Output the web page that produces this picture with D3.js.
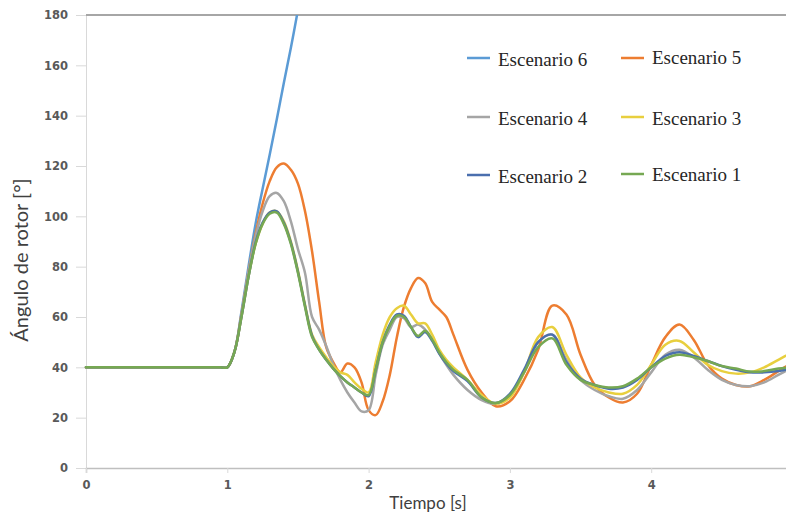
<!DOCTYPE html>
<html>
<head>
<meta charset="utf-8">
<script src="https://cdn.jsdelivr.net/npm/d3@7"></script>
<style>
  html, body { margin: 0; padding: 0; background: #ffffff; }
  svg { display: block; }
</style>
</head>
<body>
<svg id="chart" width="786" height="515"></svg>
<script>
// ---- Data ----
const times = [0, 0.95, 1.0, 1.05, 1.1, 1.15, 1.2, 1.25, 1.3, 1.35, 1.4, 1.45, 1.5, 1.55, 1.6, 1.65, 1.7, 1.75, 1.8, 1.85,
  1.9, 1.95, 2.0, 2.05, 2.1, 2.15, 2.2, 2.25, 2.3, 2.35, 2.4, 2.45, 2.5, 2.55, 2.6, 2.7, 2.8, 2.9, 3.0, 3.1,
  3.2, 3.3, 3.4, 3.5, 3.6, 3.7, 3.8, 3.9, 4.0, 4.1, 4.2, 4.3, 4.4, 4.5, 4.6, 4.7, 4.8, 4.9, 5.0];

const escenario1 = [40, 40, 40, 46, 60, 76, 89, 97, 101, 101.5, 97, 89, 77.5, 64, 52, 47, 43, 39.5, 36.5, 34,
  32, 30, 29, 39, 50, 56.5, 60.5, 60, 56, 52.5, 54.5, 51, 46, 42, 39, 35, 28, 25.8, 29, 38,
  48, 51.5, 41, 35, 33, 32, 32.5, 35.5, 40, 43.5, 45, 44, 42.5, 40.5, 39.5, 38.3, 38.5, 39.5, 40];
const escenario2 = [40, 40, 40, 46, 60, 76, 89.5, 97.5, 101.5, 102, 97.5, 89.5, 78, 64.5, 52.5, 47, 43, 39.5, 36.5, 34,
  32, 30, 28.5, 39, 50, 57, 61, 60.5, 56, 52, 54, 50.5, 45.5, 41.5, 38.5, 34.5, 28, 25.8, 29.5, 39,
  50, 53, 42, 35.5, 33, 31.5, 32, 35, 40, 44.5, 46, 44.5, 42.5, 40.5, 39, 38, 38, 38.5, 39.5];
const escenario3 = [40, 40, 40, 46, 60, 76, 89, 97, 101.5, 102, 98, 90, 78.5, 65, 53, 48, 44, 40.5, 38, 37,
  34, 31.5, 30, 42, 53, 60, 63.5, 64.5, 61, 57.5, 57.5, 53, 47, 43, 40, 35, 29, 25.5, 28, 38,
  52, 56, 45, 36, 32, 30, 29.5, 33, 41, 49, 50.5, 46, 41, 38.5, 37.5, 38, 40, 43, 46];
const escenario4 = [40, 40, 40, 46, 61, 78, 92, 102, 108, 109.3, 106, 98, 87, 77.5, 60, 55, 48.5, 41, 35, 30,
  26, 22.5, 23, 37, 49, 55, 60, 59.5, 56, 57, 55, 51, 45.5, 41, 37, 31, 27, 25.5, 28.5, 38,
  50, 53, 43, 35, 31, 28.5, 27.5, 31, 38, 45, 47, 44, 39, 35, 33, 32.5, 34, 37, 40];
const escenario5 = [40, 40, 40, 46, 61, 78, 93, 105, 114, 119.5, 121, 118.5, 113, 102, 86, 66, 48, 42, 38, 41.5,
  40, 34, 23, 21, 26.5, 37, 52, 64, 71.5, 75.5, 73.5, 66, 63, 60, 53, 39, 30, 24.5, 26.5, 35,
  47, 64.5, 61, 45, 33, 28, 26, 29.5, 41, 52, 57, 51, 41, 35.5, 33, 32.5, 35, 38.5, 42];
const escenario6 = [40, 40, 40, 46, 62, 80, 97, 111, 124.5, 138.5, 153, 167, 182];

const seriesNames = ["Escenario 6", "Escenario 5", "Escenario 4", "Escenario 3", "Escenario 2", "Escenario 1"];
const seriesValues = [escenario6, escenario5, escenario4, escenario3, escenario2, escenario1];
const seriesColors = ["#5b9bd5", "#ed7d31", "#a5a5a5", "#e8cf3e", "#4a6fae", "#76a853"];

const yTicks = [0, 20, 40, 60, 80, 100, 120, 140, 160, 180];
const xTicks = [0, 1, 2, 3, 4, 5];

// ---- Layout ----
const svg = d3.select("#chart");
const x = d3.scaleLinear().domain([0, 5]).range([86, 792.5]);
const y = d3.scaleLinear().domain([0, 180]).range([468, 15]);

// clip
svg.append("defs").append("clipPath").attr("id", "plotclip")
  .append("rect").attr("x", 84).attr("y", 15).attr("width", 720).attr("height", 455);

// y axis
const yAxis = svg.append("g").attr("transform", "translate(86,0)")
  .call(d3.axisLeft(y).tickValues(yTicks).tickSize(10).tickPadding(8).tickFormat(d3.format("d")));
yAxis.select(".domain").attr("stroke", "#d9d9d9").attr("stroke-width", 1);
yAxis.selectAll(".tick line").attr("stroke", "#d9d9d9");
yAxis.selectAll(".tick text").attr("fill", "#595959")
  .style("font-family", "'DejaVu Sans', sans-serif").style("font-weight", "bold").style("font-size", "11.5px");

// x axis
const xAxis = svg.append("g").attr("transform", "translate(0,468)")
  .call(d3.axisBottom(x).tickValues(xTicks).tickSize(5).tickPadding(8).tickFormat(d3.format("d")));
xAxis.select(".domain").attr("stroke", "#bfbfbf").attr("stroke-width", 1.5);
xAxis.selectAll(".tick line").attr("stroke", "#d9d9d9");
xAxis.selectAll(".tick text").attr("fill", "#595959")
  .style("font-family", "'DejaVu Sans', sans-serif").style("font-weight", "bold").style("font-size", "11.5px");

// top border line at 180
svg.append("line").attr("x1", x(0)).attr("x2", 786).attr("y1", y(180)).attr("y2", y(180))
  .attr("stroke", "#a6a6a6").attr("stroke-width", 2);

// lines
const line = d3.line()
  .defined(d => d[1] != null)
  .x(d => x(d[0])).y(d => y(d[1]))
  .curve(d3.curveCatmullRom.alpha(0.5));

const plot = svg.append("g").attr("clip-path", "url(#plotclip)");
seriesValues.forEach((vals, i) => {
  const pts = vals.map((v, j) => [times[j], v]);
  plot.append("path").datum(pts)
    .attr("fill", "none").attr("stroke", seriesColors[i])
    .attr("stroke-width", 2.5).attr("stroke-linejoin", "round").attr("stroke-linecap", "round")
    .attr("d", line);
});

// legend
const legendPos = [
  {lx: 467, ly: 58, tx: 498, ty: 59},
  {lx: 621, ly: 58, tx: 652, ty: 57},
  {lx: 467, ly: 117, tx: 498, ty: 118},
  {lx: 621, ly: 117, tx: 652, ty: 118},
  {lx: 467, ly: 175, tx: 498, ty: 176},
  {lx: 621, ly: 174, tx: 652, ty: 174}
];
const legend = svg.append("g");
seriesNames.forEach((name, i) => {
  const p = legendPos[i];
  legend.append("line").attr("x1", p.lx).attr("x2", p.lx + 23).attr("y1", p.ly).attr("y2", p.ly)
    .attr("stroke", seriesColors[i]).attr("stroke-width", 2.5);
  legend.append("text").attr("x", p.tx).attr("y", p.ty).attr("dy", "0.35em")
    .attr("fill", "#262626")
    .style("font-family", "'Liberation Serif', 'Times New Roman', serif").style("font-size", "19px")
    .text(name);
});

// axis titles
svg.append("text").attr("x", 428).attr("y", 509).attr("text-anchor", "middle")
  .attr("fill", "#404040").style("font-family", "Lato, 'Open Sans', sans-serif").style("font-size", "17px")
  .text("Tiempo [s]");
svg.append("text").attr("transform", "translate(28,260) rotate(-90)").attr("text-anchor", "middle")
  .attr("fill", "#404040").style("font-family", "Lato, 'Open Sans', sans-serif").style("font-size", "20px")
  .text("Ángulo de rotor [°]");
</script>
</body>
</html>
